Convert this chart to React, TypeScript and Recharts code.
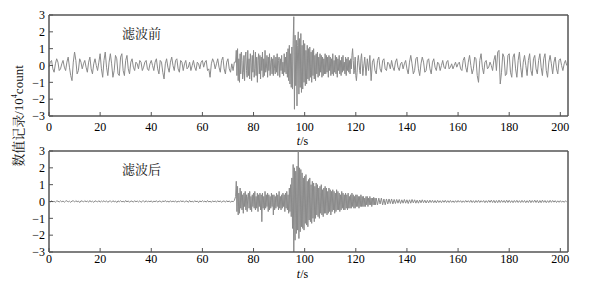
import React from 'react';
import { LineChart, Line, XAxis, YAxis, ReferenceLine, Label } from 'recharts';

const X_MAX = 203;

const xTicks = [0, 20, 40, 60, 80, 100, 120, 140, 160, 180, 200];
const yTicks = [-3, -2, -1, 0, 1, 2, 3];

// 滤波前 (raw record), 10^4 count
// 0 – 72.5 s, every 0.5 s (one row = 10 s)
const rawPre = [
  -0.1, 0.2, 0.3, -0.2, -0.4, 0.1, 0.4, 0.2, -0.3, -0.2, 0.1, 0.3, -0.1, -0.3, 0.2, 0.5, -0.1, -0.6, -0.9, 0.2,
  0.8, 0.3, -0.5, -0.3, 0.4, 0.2, -0.2, 0.1, 0.3, -0.1, -0.4, 0.2, 0.5, -0.2, -0.5, 0.1, 0.4, 0.0, -0.3, 0.2,
  0.7, -0.2, -0.7, 0.3, 0.8, -0.1, -0.6, 0.2, 0.7, 0.1, -0.7, -0.3, 0.6, 0.4, -0.5, -0.6, 0.5, 0.7, -0.3, -0.6,
  0.3, 0.6, -0.2, -0.5, 0.2, 0.4, -0.1, -0.3, 0.2, 0.1, -0.2, 0.3, 0.2, -0.3, -0.1, 0.2, 0.3, -0.2, -0.3, 0.1,
  0.3, 0.0, -0.3, 0.2, 0.4, -0.2, -0.5, 0.3, 0.2, -0.4, -0.8, 0.1, 0.4, -0.1, -0.4, 0.2, 0.5, 0.0, -0.3, 0.3,
  0.4, -0.2, -0.4, 0.3, 0.2, -0.3, 0.1, 0.3, -0.2, -0.1, 0.2, -0.3, 0.0, 0.3, -0.1, -0.3, 0.2, 0.1, -0.2, 0.2,
  0.3, -0.1, 0.2, 0.3, -0.3, -0.2, -0.7, 0.1, 0.4, 0.2, -0.2, 0.1, 0.4, -0.1, -0.4, 0.3, 0.5, -0.2, -0.5, 0.2,
  0.4, -0.2, -0.4, 0.1, -0.3, 0.2,
];
// 73 – 122.75 s, every 0.25 s (one row = 5 s)
const rawEvent = [
  0.2, 0.9, -0.6, 1.0, -0.9, 0.4, -1.0, 0.7, -0.5, 0.8, 0.3, -0.8, -0.4, 0.6, -0.9, 0.5, 0.8, -0.3, -0.7, 0.9,
  -0.6, 0.4, -0.8, 0.7, 0.2, -0.9, 0.6, -0.4, 0.9, -0.7, -0.2, 0.8, -0.6, 0.5, -1.0, 0.3, 0.7, -0.5, 0.6, -0.8,
  0.5, -0.3, 0.8, -0.7, 0.4, -0.6, 0.9, -0.4, -0.2, 0.6, -0.7, 0.5, -0.3, 0.7, -0.6, 0.2, 0.5, -0.5, 0.4, -0.6,
  0.6, -0.2, -0.5, 0.5, -0.4, 0.7, -0.6, 0.3, 0.5, -0.7, 0.4, -0.3, 0.6, -0.5, 0.2, -0.6, 0.7, -0.4, 0.5, -0.5,
  0.8, -0.7, 1.0, -0.9, 1.2, -1.1, 0.7, -1.3, 1.1, -1.4, 1.5, 2.9, -2.6, 1.8, -1.2, 1.5, -2.4, 1.2, 2.0, -1.7,
  1.6, -1.3, 1.9, -1.6, 1.2, -1.4, 1.5, -1.0, 1.3, -1.2, 0.9, -1.1, 1.2, -0.8, 1.0, -0.9, 1.1, -0.7, 0.8, -1.0,
  0.9, -0.6, 1.0, -0.8, 0.6, -0.9, 0.7, -0.5, 0.8, -0.7, 0.5, -0.6, 0.7, -0.4, 0.6, -0.7, 0.5, -0.6, 0.4, -0.5,
  0.7, -0.5, 0.6, -0.4, 0.5, -0.7, 0.6, -0.3, 0.5, -0.6, 0.4, -0.5, 0.7, -0.6, 0.3, -0.4, 0.6, -0.5, 0.5, -0.7,
  0.4, -0.3, 0.6, -0.5, 0.3, -0.6, 0.5, -0.4, 0.6, -0.3, 0.2, -0.5, 0.5, -0.6, 0.4, -0.3, 0.5, -0.4, 0.3, -0.5,
  0.4, -0.2, 0.6, 1.0, 0.3, -0.5, -0.3, 0.5, -0.6, -0.9, -0.4, 0.3, 0.6, 0.2, -0.3, -0.5, 0.4, 0.7, 0.1, -0.6,
];
// 123 – 202.5 s, every 0.5 s
const rawPost = [
  -0.2, 0.5, -0.6, 0.4, -0.3, 0.6, -0.9, 0.2, 0.4, -0.3, -0.5, 0.3, 0.5, -0.2,
  -0.4, 0.3, 0.4, -0.2, -0.3, 0.2, 0.1, -0.2, 0.3, -0.1, -0.3, 0.2, 0.4, -0.1, -0.3, 0.1, 0.2, -0.2, 0.1, 0.3,
  -0.2, -0.5, 0.2, 0.6, 0.1, -0.5, -0.3, 0.4, 0.5, -0.2, -0.6, 0.1, 0.5, 0.2, -0.4, -0.3, 0.3, 0.4, -0.2, -0.5,
  0.2, 0.4, -0.1, -0.3, 0.2, 0.1, -0.3, 0.0, 0.3, -0.1, -0.2, 0.2, 0.3, -0.2, -0.1, 0.1, -0.2, 0.0, 0.2, -0.1,
  0.1, 0.2, -0.2, -0.3, 0.3, 0.5, -0.1, -0.4, 0.2, 0.6, 0.0, -0.5, -0.2, 0.5, 0.4, -0.6, -1.0, 0.3, 0.7, -0.1,
  -0.5, 0.2, 0.3, -0.2, -0.1, 0.2, 0.0, -0.3, 0.3, 0.6, -0.3, 0.8, 0.9, -1.1, -0.4, 0.7, 0.5, -0.6, -0.5, 0.6,
  0.7, -0.4, -0.7, 0.5, 0.7, -0.2, -0.7, 0.3, 0.8, -0.1, -0.7, 0.2, 0.6, 0.0, -0.6, 0.3, 0.7, -0.3, -0.6, 0.4,
  0.6, -0.2, -0.5, 0.3, 0.7, -0.1, -0.6, 0.4, 0.7, -0.3, -0.7, 0.2, 0.6, 0.1, -0.5, 0.2, 0.5, -0.2, -0.5, 0.3,
  0.4, 0.0, -0.3, 0.1, 0.3, 0.0,
];

// 滤波后 (filtered record), 10^4 count
// 0 – 72.5 s, every 0.5 s
const filteredPre = [
  0.02, -0.03, 0.04, -0.02, 0.01, -0.04, 0.03, 0.02, -0.03, 0.04, -0.02, 0.03, -0.04, 0.02, 0.05, -0.03, 0.02, -0.05, 0.03, 0.04,
  -0.03, 0.05, -0.02, 0.03, -0.06, 0.04, 0.02, -0.03, 0.05, -0.02, 0.03, -0.04, 0.06, -0.03, 0.02, -0.05, 0.04, 0.01, -0.03, 0.05,
  -0.04, 0.03, -0.02, 0.05, -0.03, 0.04, -0.05, 0.02, 0.03, -0.04, 0.05, -0.02, 0.03, -0.06, 0.04, -0.02, 0.05, -0.03, 0.02, -0.04,
  0.06, -0.03, 0.04, -0.05, 0.03, 0.02, -0.04, 0.05, -0.02, 0.03, -0.03, 0.04, -0.05, 0.02, 0.03, -0.04, 0.05, -0.03, 0.02, -0.02,
  0.04, -0.05, 0.03, -0.02, 0.05, -0.04, 0.02, 0.03, -0.05, 0.04, -0.02, 0.06, -0.03, 0.02, -0.04, 0.05, -0.03, 0.03, -0.02, 0.04,
  -0.05, 0.03, -0.03, 0.05, -0.02, 0.04, -0.04, 0.02, 0.03, -0.05, 0.06, -0.03, 0.02, -0.04, 0.05, -0.02, 0.03, -0.06, 0.04, -0.03,
  0.05, -0.02, 0.03, -0.04, 0.06, -0.03, 0.02, -0.05, 0.04, -0.02, 0.03, -0.04, 0.05, -0.03, 0.04, -0.05, 0.02, 0.03, -0.04, 0.05,
  -0.03, 0.04, -0.05, 0.03, -0.02, 0.06,
];
// 73 – 127.75 s, every 0.25 s
const filteredEvent = [
  0.3, 1.2, -0.6, 0.9, -0.8, 0.5, -0.7, 0.8, -0.4, 0.6, -0.5, 0.4, -0.7, 0.5, -0.3, 0.6, -0.5, 0.4, -0.6, 0.3,
  0.5, -0.4, 0.6, -0.5, 0.3, -0.6, 0.4, -0.3, 0.5, -0.4, 0.6, -0.5, 0.3, -0.4, 0.5, -0.6, 0.4, -0.3, 0.5, -0.5,
  0.4, -1.2, 0.5, -0.4, 0.3, -0.5, 0.6, -0.4, 0.4, -0.3, 0.5, -0.6, 0.4, -0.5, 0.3, -0.4, 0.5, -0.3, 0.4, -0.8,
  0.4, -0.5, 0.3, -0.4, 0.5, -0.3, 0.4, -0.5, 0.6, -0.4, 0.3, -0.5, 0.4, -0.4, 0.5, -0.3, 0.4, -0.6, 0.5, -0.4,
  0.6, -0.5, 0.4, -0.7, 0.8, -0.6, 1.0, -0.9, 1.4, -1.6, 2.2, -3.2, 2.0, -2.3, 1.8, -1.9, 2.1, -1.7, 3.3, -2.2,
  2.0, -1.8, 1.9, -1.5, 1.7, -1.6, 1.4, -1.7, 1.5, -1.3, 1.6, -1.4, 1.2, -1.5, 1.3, -1.1, 1.4, -1.2, 1.0, -1.3,
  1.2, -1.0, 1.1, -1.2, 0.9, -1.0, 1.1, -0.8, 1.0, -0.9, 0.8, -1.0, 0.9, -0.7, 1.0, -0.8, 0.7, -0.9, 0.8, -0.7,
  0.9, -0.7, 0.8, -0.8, 0.6, -0.7, 0.8, -0.6, 0.7, -0.8, 0.6, -0.6, 0.7, -0.5, 0.6, -0.7, 0.5, -0.6, 0.7, -0.5,
  0.6, -0.5, 0.5, -0.6, 0.4, -0.5, 0.6, -0.4, 0.5, -0.5, 0.4, -0.5, 0.5, -0.4, 0.4, -0.5, 0.5, -0.4, 0.3, -0.4,
  0.4, -0.4, 0.5, -0.3, 0.4, -0.4, 0.3, -0.4, 0.4, -0.3, 0.4, -0.3, 0.3, -0.4, 0.3, -0.3, 0.4, -0.3, 0.3, -0.3,
  0.3, -0.3, 0.2, -0.3, 0.3, -0.2, 0.3, -0.3, 0.2, -0.2, 0.3, -0.2, 0.2, -0.3, 0.2, -0.2, 0.25, -0.2, 0.2, -0.2,
];
// 128 – 202.5 s, every 0.5 s
const filteredPost = [
  0.2, -0.2, 0.2, -0.15, 0.2, -0.2, 0.15, -0.2, 0.15, -0.15, 0.15, -0.12, 0.15, -0.15, 0.12, -0.12, 0.12, -0.1, 0.12, -0.12,
  0.1, -0.1, 0.12, -0.1,
  0.1, -0.12, 0.1, -0.1, 0.12, -0.08, 0.1, -0.1, 0.08, -0.1, 0.09, -0.08, 0.1, -0.07, 0.08, -0.09, 0.07, -0.08, 0.08, -0.06,
  0.07, -0.07, 0.06, -0.08, 0.07, -0.06, 0.05, -0.07, 0.06, -0.05, 0.07, -0.06, 0.05, -0.06, 0.06, -0.05, 0.04, -0.06, 0.05, -0.05,
  0.06, -0.04, 0.05, -0.06, 0.04, -0.05, 0.06, -0.04, 0.05, -0.05, 0.07, -0.06, 0.05, -0.07, 0.06, -0.05, 0.07, -0.06, 0.05, -0.04,
  0.06, -0.07, 0.05, -0.06, 0.07, -0.05, 0.08, -0.06, 0.07, -0.08, 0.06, -0.07, 0.08, -0.06, 0.07, -0.05, 0.06, -0.07, 0.08, -0.06,
  0.07, -0.06, 0.05, -0.07, 0.06, -0.05, 0.07, -0.06, 0.05, -0.06, 0.07, -0.05, 0.06, -0.07, 0.05, -0.06, 0.08, -0.07, 0.06, -0.05,
  0.08, -0.06, 0.07, -0.08, 0.06, -0.07, 0.08, -0.05, 0.06, -0.07, 0.05, -0.06, 0.07, -0.05, 0.06, -0.04, 0.05, -0.06, 0.04, -0.05,
  0.05, -0.04, 0.03, -0.05, 0.04, -0.02,
];

type Segment = { start: number; step: number; values: number[] };

const rawSegments: Segment[] = [
  { start: 0, step: 0.5, values: rawPre },
  { start: 73, step: 0.25, values: rawEvent },
  { start: 123, step: 0.5, values: rawPost },
];
const filteredSegments: Segment[] = [
  { start: 0, step: 0.5, values: filteredPre },
  { start: 73, step: 0.25, values: filteredEvent },
  { start: 128, step: 0.5, values: filteredPost },
];

const toRows = (segs: Segment[]) =>
  segs.flatMap(s => s.values.map((v, i) => ({ t: s.start + i * s.step, v })));

const SERIF = '"Liberation Serif", "Times New Roman", "Noto Serif CJK SC", "Noto Sans CJK SC", serif';
const CJK = '"Noto Serif CJK SC", "Noto Sans CJK SC", serif';
const AXIS = '#555';
const FS = 12;

const minus = (v: number) => String(v).replace('-', '\u2212');

const TimeLabel = (props: any) => {
  const { viewBox, dy } = props;
  const cx = viewBox.x + viewBox.width / 2 - 6;
  return (
    <text x={cx} y={viewBox.y + dy} textAnchor="middle" fontFamily={SERIF} fontSize={FS} fill="#000">
      <tspan fontStyle="italic">t</tspan>/s
    </text>
  );
};

interface PanelProps {
  segments: Segment[];
  title: string;
  top: number;
  labelDy: number;
  tickGap: number;
}

const Panel: React.FC<PanelProps> = ({ segments, title, top, labelDy, tickGap }) => (
  <div style={{ position: 'absolute', left: 0, top }}>
    <LineChart width={591} height={150} data={toRows(segments)} margin={{ top: 15, right: 23, bottom: 0, left: 0 }}>
      <XAxis
        dataKey="t"
        type="number"
        domain={[0, X_MAX]}
        ticks={xTicks}
        height={34}
        tickSize={-4}
        tickMargin={tickGap}
        axisLine={{ stroke: AXIS, strokeWidth: 1.5 }}
        tickLine={{ stroke: AXIS }}
        tick={{ fill: '#000', fontSize: FS, fontFamily: SERIF }}
        interval={0}
      >
        <Label content={<TimeLabel dy={labelDy} />} />
      </XAxis>
      <YAxis
        type="number"
        domain={[-3, 3]}
        ticks={yTicks}
        allowDataOverflow
        width={49}
        tickSize={-4}
        tickMargin={8}
        tickFormatter={minus}
        axisLine={{ stroke: AXIS, strokeWidth: 1.5 }}
        tickLine={{ stroke: AXIS }}
        tick={{ fill: '#000', fontSize: FS, fontFamily: SERIF }}
        interval={0}
      />
      <ReferenceLine y={3} stroke={AXIS} strokeWidth={1.5} />
      <ReferenceLine x={X_MAX} stroke={AXIS} strokeWidth={1.5} />
      <Line dataKey="v" type="linear" dot={false} stroke="#8a8a8a" strokeWidth={1} isAnimationActive={false} />
    </LineChart>
    <div style={{ position: 'absolute', left: 122, top: 25, fontFamily: CJK, fontSize: 13, color: '#111', lineHeight: '16px' }}>
      {title}
    </div>
  </div>
);

export default function App() {
  return (
    <div style={{ position: 'absolute', left: 0, top: 0, width: 591, height: 281, background: '#fff', overflow: 'hidden' }}>
      <Panel segments={rawSegments} title="滤波前" top={0} labelDy={29} tickGap={10} />
      <Panel segments={filteredSegments} title="滤波后" top={136} labelDy={26} tickGap={6} />
      <div
        style={{
          position: 'absolute',
          left: 17,
          top: 116,
          transform: 'translate(-50%, -50%) rotate(-90deg)',
          whiteSpace: 'nowrap',
          fontFamily: SERIF,
          fontSize: 13,
          color: '#111',
        }}
      >
        数值记录/10<sup style={{ fontSize: 8 }}>4</sup>count
      </div>
    </div>
  );
}
